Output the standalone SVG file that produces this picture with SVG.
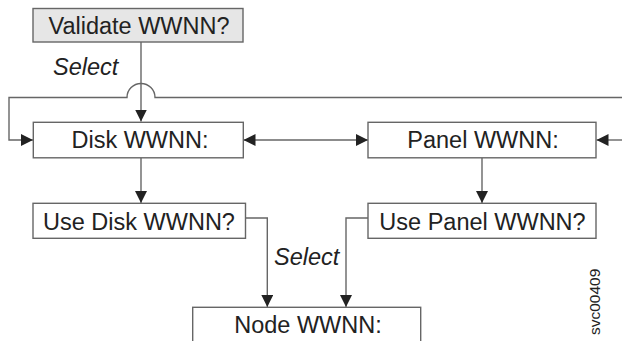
<svg xmlns="http://www.w3.org/2000/svg" width="622" height="341" viewBox="0 0 622 341">
<style>
.box{fill:#fff;stroke:#666;stroke-width:1.4}
.t{font-family:"Liberation Sans",Arial,sans-serif;font-size:23.5px;fill:#222;text-anchor:middle}
.lbl{font-family:"Liberation Sans",Arial,sans-serif;font-size:23.5px;font-style:italic;fill:#222}
.c{fill:none;stroke:#666;stroke-width:1.4}
</style>
<defs>
<marker id="ah" markerUnits="userSpaceOnUse" markerWidth="14" markerHeight="12" refX="12" refY="6" orient="auto-start-reverse">
<path d="M0,0 L12,6 L0,12 Z" fill="#222"/>
</marker>
</defs>
<rect width="622" height="341" fill="#fff"/>
<g id="connectors">
<path class="c" d="M141,42 V121.5" marker-end="url(#ah)"/>
<path class="c" d="M622,97.5 H155 A14,14 0 0 0 127,97.5 H9 V140 H33" marker-end="url(#ah)"/>
<path class="c" d="M243.5,140 H368" marker-start="url(#ah)" marker-end="url(#ah)"/>
<path class="c" d="M622,140 H596.5" marker-end="url(#ah)"/>
<path class="c" d="M141,158 V203" marker-end="url(#ah)"/>
<path class="c" d="M482,158 V203" marker-end="url(#ah)"/>
<path class="c" d="M245.5,218 H267.3 V307" marker-end="url(#ah)"/>
<path class="c" d="M368,218 H346 V307" marker-end="url(#ah)"/>
<text class="lbl" x="53" y="75">Select</text>
<text class="lbl" x="274" y="265">Select</text>
</g>
<g id="validate">
<rect class="box" x="33" y="8.5" width="210" height="33.5" fill="#e6e6e6" style="fill:#e6e6e6"/>
<text class="t" x="139" y="34">Validate WWNN?</text>
</g>
<g id="disk">
<rect class="box" x="33.3" y="122.3" width="210" height="35.5"/>
<text class="t" x="140" y="148.3">Disk WWNN:</text>
</g>
<g id="panel">
<rect class="box" x="368" y="122.3" width="228" height="35.5"/>
<text class="t" x="483" y="148.3">Panel WWNN:</text>
</g>
<g id="usedisk">
<rect class="box" x="33" y="203.3" width="212.5" height="35"/>
<text class="t" x="139" y="229.5">Use Disk WWNN?</text>
</g>
<g id="usepanel">
<rect class="box" x="368" y="203.3" width="228" height="35"/>
<text class="t" x="482.5" y="229.5">Use Panel WWNN?</text>
</g>
<g id="node">
<rect class="box" x="192.7" y="307.3" width="228" height="50"/>
<text class="t" x="308" y="333">Node WWNN:</text>
</g>
<text x="600" y="335" transform="rotate(-90 600 335)" font-family="'Liberation Sans',Arial,sans-serif" font-size="15.5" fill="#222">svc00409</text>
</svg>
